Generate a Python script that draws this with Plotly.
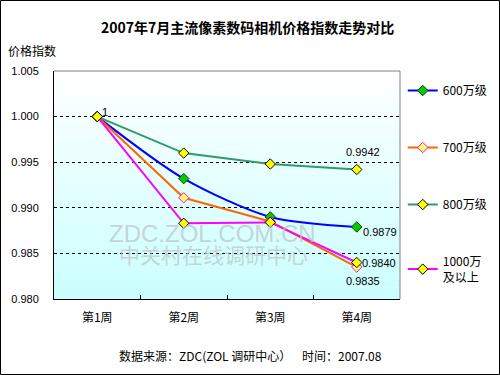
import plotly.graph_objects as go

weeks = ["第1周", "第2周", "第3周", "第4周"]
s600 = [1.0, 0.9932, 0.9890, 0.9879]
s700 = [1.0, 0.9911, 0.9885, 0.9835]
s800 = [1.0, 0.9960, 0.9948, 0.9942]
s1000 = [1.0, 0.9883, 0.9884, 0.9840]
y_ticks = [0.980, 0.985, 0.990, 0.995, 1.000, 1.005]
y_tick_text = ["0.980", "0.985", "0.990", "0.995", "1.000", "1.005"]

FONT = "Liberation Sans, Arial, Noto Sans CJK SC"
CJK = "Noto Sans CJK SC, SimSun, sans-serif"

fig = go.Figure()

def add(name, vals, color, mfill, mline, shape="linear", group=""):
    fig.add_trace(go.Scatter(
        x=weeks, y=vals, name=name, mode="lines+markers",
        line=dict(color=color, width=2, shape=shape, smoothing=0.8),
        marker=dict(symbol="diamond", size=8, color=mfill, line=dict(color=mline, width=1)),
        legendgroup=group, showlegend=True))

add("600万级", s600, "#0000FF", "#00CC00", "#004400", shape="spline", group="a")
add("700万级", s700, "#FF6600", "#FFFF66", "#FF00FF", group="b")
add("800万级", s800, "#339966", "#FFFF00", "#000000", group="c")
add("1000万<br>及以上", s1000, "#FF00FF", "#FFFF00", "#000000", group="d")

# gradient background
n = 40
for i in range(n):
    t = i / (n - 1)
    r = int(255 - (255 - 202) * t)
    fig.add_shape(type="rect", xref="x domain", yref="y domain",
                  x0=0, x1=1, y0=1 - (i + 1) / n, y1=1 - i / n,
                  fillcolor=f"rgb({r},255,255)", line_width=0, layer="below")

# gray top/right border
fig.add_shape(type="line", xref="x domain", yref="y domain", x0=0, x1=1, y0=1, y1=1,
              line=dict(color="#808080", width=1))
fig.add_shape(type="line", xref="x domain", yref="y domain", x0=1, x1=1, y0=0, y1=1,
              line=dict(color="#808080", width=1))

# outer frame
pw, ph, ml, mt = 346, 228, 54, 71
fig.add_shape(type="rect", xref="paper", yref="paper",
              x0=(0.5 - ml) / pw, x1=(499.5 - ml) / pw,
              y0=(mt + ph - 374.5) / ph, y1=(mt + ph - 0.5) / ph,
              line=dict(color="#000000", width=1), fillcolor="rgba(0,0,0,0)")

def px(x):
    return (x - ml) / pw

def py(y):
    return (mt + ph - y) / ph

# watermark
fig.add_annotation(text="ZDC.ZOL.COM.CN", xref="paper", yref="paper",
                   x=px(212), y=py(233), yanchor="middle", showarrow=False,
                   font=dict(family="Liberation Sans, Arial", size=24, color="rgba(185,195,195,0.7)"))
fig.add_annotation(text="中关村在线调研中心", xref="paper", yref="paper",
                   x=px(213), y=py(254), yanchor="middle", showarrow=False,
                   font=dict(family=CJK, size=21, color="rgba(185,195,195,0.7)"))

# data labels
lab = dict(showarrow=False, font=dict(family=FONT, size=11, color="#000000"))
fig.add_annotation(x=weeks[0], y=s600[0], text="1", xanchor="left", xshift=3, yshift=5, **lab)
fig.add_annotation(x=weeks[3], y=s800[3], text=f"{s800[3]:.4f}", xanchor="center", yanchor="bottom", xshift=6, yshift=10, **lab)
fig.add_annotation(x=weeks[3], y=s600[3], text=f"{s600[3]:.4f}", xanchor="left", xshift=4, yshift=-5, **lab)
fig.add_annotation(x=weeks[3], y=s1000[3], text=f"{s1000[3]:.4f}", xanchor="left", xshift=3, yshift=0, **lab)
fig.add_annotation(x=weeks[3], y=s700[3], text=f"{s700[3]:.4f}", xanchor="center", yanchor="top", xshift=6, yshift=-6, **lab)

# titles
fig.add_annotation(text="<b>2007年7月主流像素数码相机价格指数走势对比</b>", xref="paper", yref="paper",
                   x=px(247), y=py(27), yanchor="middle", showarrow=False,
                   font=dict(family=CJK, size=14, color="#000000"))
fig.add_annotation(text="价格指数", xref="paper", yref="paper", xanchor="left",
                   x=px(6), y=py(50), yanchor="middle", showarrow=False,
                   font=dict(family=CJK, size=12, color="#000000"))
fig.add_annotation(text="数据来源：ZDC(ZOL 调研中心）    时间：2007.08", xref="paper", yref="paper",
                   x=px(250), y=py(355), yanchor="middle", showarrow=False,
                   font=dict(family=CJK, size=12, color="#000000"))

fig.update_layout(
    width=500, height=375,
    margin=dict(l=ml, r=500 - ml - pw, t=mt, b=375 - mt - ph, pad=0, autoexpand=False),
    paper_bgcolor="#FFFFFF", plot_bgcolor="rgba(0,0,0,0)",
    font=dict(family=FONT, size=11, color="#000000"),
    legend=dict(x=1.008, y=0.978, xanchor="left", yanchor="top",
                font=dict(family=CJK, size=12), tracegroupgap=38,
                bgcolor="rgba(0,0,0,0)", itemwidth=30),
    xaxis=dict(type="category", range=[-0.5, 3.5], showline=True, linecolor="#000000",
               linewidth=1, ticks="inside", ticklen=4, tickson="boundaries",
               tickcolor="#000000", showgrid=False, tickfont=dict(family=CJK, size=12),
               ticklabelstandoff=8, automargin=False),
    yaxis=dict(range=[0.980, 1.005], tickvals=y_ticks, ticktext=y_tick_text,
               showline=True, linecolor="#000000", linewidth=1, ticks="",
               showgrid=True, gridcolor="#000000", gridwidth=1, griddash="3px,3px",
               zeroline=False, ticklabelstandoff=12, tickfont=dict(size=11), automargin=False),
)

fig.write_html("out.html", config={"displayModeBar": False},
               post_script="document.body.style.margin='0';document.body.style.overflow='hidden';")
